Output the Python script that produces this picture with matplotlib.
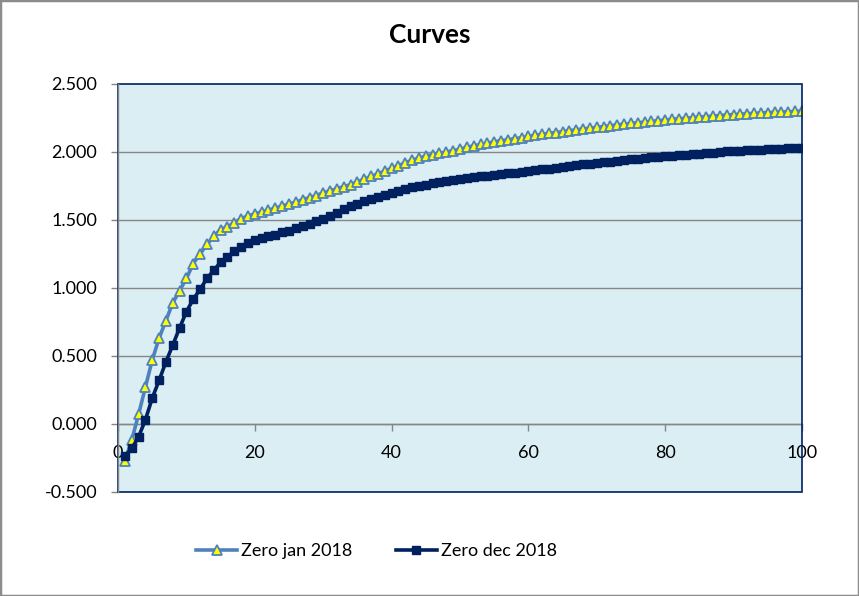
import matplotlib
matplotlib.use("Agg")
import matplotlib.pyplot as plt
from matplotlib.patches import Rectangle
from matplotlib.ticker import FormatStrFormatter


# maturity (x) and zero rates
maturity = list(range(1, 101))

zero_jan_2018 = [
    -0.270, -0.120, 0.070, 0.270, 0.470, 0.630, 0.760, 0.890, 0.980, 1.070,
    1.180, 1.250, 1.320, 1.380, 1.430, 1.450, 1.480, 1.510, 1.530, 1.545,
    1.560, 1.570, 1.590, 1.600, 1.620, 1.630, 1.650, 1.665, 1.680, 1.700,
    1.715, 1.730, 1.745, 1.760, 1.780, 1.800, 1.820, 1.840, 1.860, 1.880,
    1.900, 1.920, 1.940, 1.955, 1.970, 1.980, 1.990, 2.000, 2.010, 2.020,
    2.035, 2.045, 2.055, 2.065, 2.075, 2.083, 2.090, 2.098, 2.105, 2.115,
    2.123, 2.130, 2.137, 2.143, 2.150, 2.157, 2.163, 2.170, 2.175, 2.180,
    2.187, 2.193, 2.200, 2.205, 2.210, 2.215, 2.220, 2.225, 2.230, 2.235,
    2.240, 2.244, 2.248, 2.252, 2.256, 2.260, 2.264, 2.268, 2.272, 2.275,
    2.278, 2.281, 2.284, 2.287, 2.290, 2.292, 2.294, 2.296, 2.298, 2.300,
]

zero_dec_2018 = [
    -0.235, -0.180, -0.095, 0.030, 0.190, 0.320, 0.456, 0.580, 0.706, 0.826,
    0.917, 0.990, 1.070, 1.130, 1.190, 1.230, 1.270, 1.300, 1.330, 1.350,
    1.370, 1.380, 1.390, 1.410, 1.420, 1.440, 1.455, 1.470, 1.490, 1.510,
    1.530, 1.550, 1.580, 1.600, 1.620, 1.640, 1.655, 1.670, 1.685, 1.700,
    1.715, 1.730, 1.740, 1.750, 1.760, 1.770, 1.780, 1.787, 1.794, 1.800,
    1.807, 1.814, 1.820, 1.826, 1.832, 1.838, 1.843, 1.848, 1.853, 1.858,
    1.865, 1.872, 1.878, 1.884, 1.890, 1.896, 1.902, 1.908, 1.914, 1.920,
    1.925, 1.930, 1.935, 1.940, 1.946, 1.951, 1.956, 1.960, 1.964, 1.968,
    1.972, 1.976, 1.980, 1.984, 1.988, 1.992, 1.996, 2.000, 2.004, 2.007,
    2.010, 2.013, 2.016, 2.018, 2.020, 2.022, 2.024, 2.026, 2.028, 2.030,
]

x_ticks = [0, 20, 40, 60, 80, 100]
y_ticks = [-0.5, 0.0, 0.5, 1.0, 1.5, 2.0, 2.5]

GRID = "#868686"
NAVY = "#002060"
BLUE = "#4F81BD"


def set_style():
    plt.rcParams.update({
        "font.family": ["Lato", "DejaVu Sans"],
        "font.size": 13,
        "axes.linewidth": 1.0,
    })


def main():
    set_style()

    fig = plt.figure(figsize=(8.59, 5.96), dpi=100)
    ax = fig.add_axes([0.1374, 0.1745, 0.7962, 0.6846])
    ax.set_facecolor("#DAEEF3")

    ax.set_xlim(0, 100)
    ax.set_ylim(-0.5, 2.5)
    ax.set_xticks(x_ticks)
    ax.set_yticks(y_ticks)
    ax.yaxis.set_major_formatter(FormatStrFormatter("%.3f"))

    for y in y_ticks[1:-1]:
        ax.axhline(y, color=GRID, linewidth=1.0, zorder=1)

    ax.plot(maturity, zero_jan_2018, color=BLUE, linewidth=2.6,
            marker="^", markersize=6.5, markerfacecolor="#FFFF00",
            markeredgecolor=BLUE, markeredgewidth=1.3,
            label="Zero jan 2018", zorder=3)
    ax.plot(maturity, zero_dec_2018, color=NAVY, linewidth=2.6,
            marker="s", markersize=6.2, markerfacecolor=NAVY,
            markeredgecolor=NAVY, label="Zero dec 2018", zorder=3)

    # x axis crosses at zero, plot border drawn separately
    ax.spines["bottom"].set_position(("data", 0))
    ax.spines["bottom"].set_color(GRID)
    ax.spines["left"].set_color(GRID)
    ax.spines["top"].set_visible(False)
    ax.spines["right"].set_visible(False)
    ax.add_patch(Rectangle((0, 0), 1, 1, transform=ax.transAxes,
                           fill=False, edgecolor=NAVY, linewidth=1.2,
                           zorder=4, clip_on=False))
    ax.spines["left"].set_zorder(5)

    ax.tick_params(axis="x", direction="out", length=5, width=1,
                   color=GRID, pad=10, labelsize=13)
    ax.tick_params(axis="y", direction="out", length=5, width=1,
                   color=GRID, pad=10, labelsize=13)

    fig.text(0.5, 0.941, "Curves", ha="center", va="center",
             fontsize=19, fontweight="bold")

    fig.legend(loc="center", bbox_to_anchor=(0.438, 0.0755), ncol=2,
               frameon=False, handlelength=2.3, columnspacing=2.4,
               handletextpad=0.2, fontsize=13)

    fig.patches.append(Rectangle((0, 0), 1, 1, transform=fig.transFigure,
                                 fill=False, edgecolor="#8C8C8C",
                                 linewidth=2.5))

    fig.savefig("out.png", dpi=100)
    plt.close(fig)


if __name__ == "__main__":
    main()
